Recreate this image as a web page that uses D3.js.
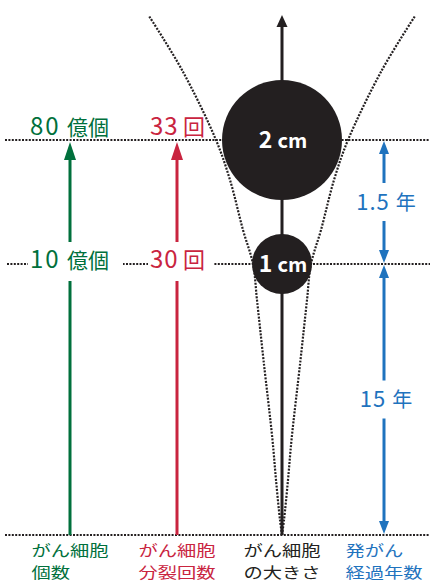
<!DOCTYPE html>
<html><head><meta charset="utf-8">
<script src="https://cdn.jsdelivr.net/npm/d3@7"></script>
<style>
body{margin:0;background:#fff}
svg{display:block;font-family:"Noto Sans CJK JP","Noto Sans",sans-serif}
</style></head><body>
<svg id="chart" width="430" height="584"></svg>
<script>
// stages: start, 1cm, 2cm  (height above the baseline)
const levelH = [0, 271, 395];
const cellNum = [null, "10", "80"], cellUnit = "億個";
const divNum = [null, "30", "33"], divUnit = "回";
const sizeCm = [0, 1, 2];
const spans = [{from:0, to:1, num:"15"}, {from:1, to:2, num:"1.5"}];
const yearUnit = "年";
const topH = 520;
// dotted growth envelope, half width at each height
const curveH   = [0, 15, 55, 95, 175, 235, 271, 305, 355, 395, 465, 519];
const curveOff = [0, 2, 6, 9.5, 18.5, 25, 29, 39, 52, 66, 100, 133];
const colLabels = [["がん細胞","個数"],["がん細胞","分裂回数"],["がん細胞","の大きさ"],["発がん","経過年数"]];
const colColors = ["#00703c","#c9243f","#231f20","#1f73be"];

const svg = d3.select("#chart");
const y = d3.scaleLinear().domain([0, topH]).range([535, 15]),
      x = d3.scaleLinear().domain([-140, 140]).range([142, 422]),
      r = d3.scaleLinear().domain([0, 2]).range([0, 60]),
      colX = d3.scaleOrdinal().domain([0,1,2,3]).range([70, 177, 282, 384]);
const ink = colColors[2];
const dots = {stroke: ink, "stroke-width": 2.2, "stroke-dasharray": "2,1.4", fill: "none"};
let attrs = (sel, o) => { for (let k in o) sel.attr(k, o[k]); return sel; };

// horizontal dotted levels
levelH.forEach((h, i) => {
    attrs(svg.append("line"), dots)
        .attr("x1", i === 1 ? 7 : 5).attr("x2", 430)
        .attr("y1", y(h)).attr("y2", y(h));
});

// growth envelope
let env = [-1, 1].map(s => curveH.map((h, i) => [x(s * curveOff[i]), y(h)]));
env.forEach(pts => {
    attrs(svg.append("path"), dots)
        .attr("d", d3.line().curve(d3.curveCatmullRom)(pts));
});

// vertical arrows: cell count, divisions, size
function arrow(cx, y0, y1, col, hl, hw) {
    let dir = y1 < y0 ? 1 : -1;
    svg.append("line").attr("x1", cx).attr("x2", cx)
        .attr("y1", y0).attr("y2", y1 + dir * (hl - 1))
        .attr("stroke", col).attr("stroke-width", 3);
    svg.append("path").attr("fill", col)
        .attr("d", d3.line()([[cx, y1], [cx - hw/2, y1 + dir*hl], [cx + hw/2, y1 + dir*hl]]) + "Z");
}
arrow(colX(0), y(0), y(levelH[2]) + 2, colColors[0], 18, 12);
arrow(colX(1), y(0), y(levelH[2]) + 2, colColors[1], 18, 12);
arrow(colX(2), y(0), y(topH), ink, 12, 11);

// blue year spans
spans.forEach(s => {
    let a = y(levelH[s.from]), b = y(levelH[s.to]), m = (a + b) / 2;
    arrow(colX(3), m - 19, b + 1, colColors[3], 13, 10);
    arrow(colX(3), m + 19, a - 1, colColors[3], 13, 10);
    let t = svg.append("text").attr("x", colX(3) + 2).attr("y", m + 7.5)
        .attr("text-anchor", "middle").attr("fill", colColors[3]);
    t.append("tspan").attr("font-size", 22).attr("letter-spacing", 1).text(s.num + " ");
    t.append("tspan").attr("font-size", 20).text(yearUnit);
});

// size circles
sizeCm.forEach((d, i) => {
    if (!d) return;
    svg.append("circle").attr("cx", colX(2)).attr("cy", y(levelH[i]))
        .attr("r", r(d)).attr("fill", ink);
    let t = svg.append("text").attr("x", colX(2) + 1).attr("y", y(levelH[i]) + 8)
        .attr("text-anchor", "middle").attr("fill", "#fff").attr("font-weight", "bold");
    t.append("tspan").attr("font-size", 23).text(d + " ");
    t.append("tspan").attr("font-size", 20).text("cm");
});

// count / division labels
[[cellNum, cellUnit, 30, 67, colColors[0], 2], [divNum, divUnit, 150, 183, colColors[1], 1]]
.forEach(([nums, unit, x0, x1, col, ls]) => {
    nums.forEach((n, i) => {
        if (!n) return;
        let ly = y(levelH[i]), by = i === 2 ? ly - 5 : ly + 4;
        if (i === 1) {
            let x2 = unit.length > 1 ? 123 : 213;
            svg.append("rect").attr("x", x0 - 2).attr("y", ly - 22)
                .attr("width", x2 - x0 + 2).attr("height", 39)
                .attr("fill", "#fff");
        }
        let t = svg.append("text").attr("y", by).attr("fill", col);
        t.append("tspan").attr("x", x0).attr("font-size", 24).attr("letter-spacing", ls).text(n);
        t.append("tspan").attr("x", x1).attr("font-size", unit.length > 1 ? 21 : 22).text(unit);
    });
});

// column captions (wide, flat lettering)
colLabels.forEach((lines, i) => {
    lines.forEach((s, j) => {
        svg.append("text")
            .attr("transform", `translate(${colX(i) - 38.5},${556 + j * 22}) scale(1.27,1)`)
            .attr("font-size", 15.2)
            .attr("fill", colColors[i]).text(s);
    });
});
</script>
</body></html>
